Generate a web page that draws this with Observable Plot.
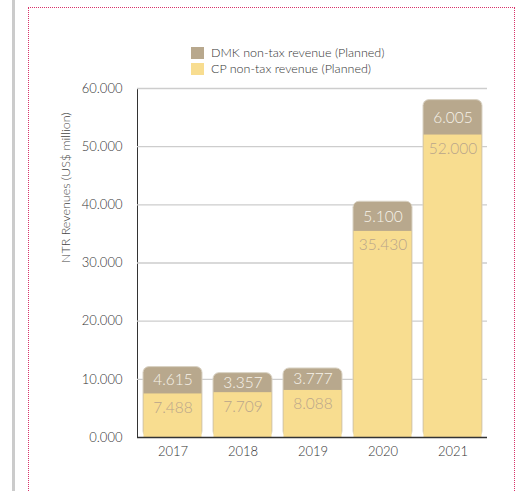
<!DOCTYPE html>
<html>
<head>
<meta charset="utf-8">
<script src="https://cdn.jsdelivr.net/npm/d3@7"></script>
<script src="https://cdn.jsdelivr.net/npm/@observablehq/plot@0.6"></script>
<style>
  html, body { margin: 0; padding: 0; background: #fff; }
  body { width: 518px; height: 491px; position: relative; overflow: hidden; font-family: Lato, sans-serif; }
  #leftbar { position: absolute; left: 12px; top: 0; width: 3px; height: 491px; background: #cbcbcb; }
  #frame { position: absolute; left: 28px; top: 7px; width: 487px; height: 520px; border: 1px dotted #d8336a; box-sizing: border-box; }
  #legend { position: absolute; left: 191px; top: 45px; font-size: 12.5px; font-weight: 300; color: #333; line-height: 16px; }
  #legend .row { display: flex; align-items: center; height: 16px; }
  #legend .sw { width: 13px; height: 12px; margin-right: 7px; }
  #chart { position: absolute; left: 0; top: 75px; }
</style>
</head>
<body>
<div id="leftbar"></div>
<div id="frame"></div>
<div id="legend"></div>
<div id="chart"></div>
<script>
const years = ["2017", "2018", "2019", "2020", "2021"];
const cpValues = [7488, 7709, 8088, 35430, 52000];
const dmkValues = [4615, 3357, 3777, 5100, 6005];
const seriesNames = ["DMK non-tax revenue (Planned)", "CP non-tax revenue (Planned)"];
const yTicks = [0, 10000, 20000, 30000, 40000, 50000, 60000];
const yTitle = "NTR Revenues (US$ million)";

const dmkColor = "#b8a88d";
const cpColor = "#f8dd90";

const data = years.map((year, i) => ({ year, cp: cpValues[i], dmk: dmkValues[i], total: cpValues[i] + dmkValues[i] }));
const fmt = d => (d / 1000).toFixed(3);

const legend = document.getElementById("legend");
[[seriesNames[0], dmkColor], [seriesNames[1], cpColor]].forEach(([name, color]) => {
  const row = document.createElement("div");
  row.className = "row";
  row.innerHTML = `<span class="sw" style="background:${color}"></span><span>${name}</span>`;
  legend.appendChild(row);
});

const chart = Plot.plot({
  width: 518,
  height: 392,
  marginTop: 13,
  marginBottom: 30,
  marginLeft: 137,
  marginRight: 31,
  style: { fontFamily: "Lato, sans-serif", fontSize: "13px", fontWeight: 300, color: "#333", background: "transparent" },
  x: { domain: years, paddingInner: 0.16, paddingOuter: 0.08, tickSize: 0, tickPadding: 9, label: null },
  y: {
    domain: [0, 60000], ticks: yTicks, tickFormat: fmt, tickSize: 0, tickPadding: 15,
    line: true, label: null
  },
  marks: [
    Plot.ruleY(yTicks.slice(1), { stroke: "#cdcdcd", strokeWidth: 1.3 }),
    Plot.barY(data, { x: "year", y1: 0, y2: "total", fill: dmkColor, stroke: "#d9d2c3", strokeWidth: 1, rx: 6 }),
    Plot.barY(data, { x: "year", y1: 0, y2: "cp", fill: cpColor, insetLeft: 0.5, insetRight: 0.5 }),
    Plot.ruleY([0], { stroke: "#333", strokeWidth: 1.5 }),
    Plot.text(data, { x: "year", y: d => d.cp + d.dmk / 2, text: d => fmt(d.dmk), fill: "#f7f3ea", fontSize: 15.5 }),
    Plot.text(data, { x: "year", y: "cp", dy: 14, text: d => fmt(d.cp), fill: "#b8a58b", fontSize: 15.5 }),
    Plot.text([yTitle], { frameAnchor: "left", dx: -72, rotate: -90, text: d => d, fontSize: 12.5, fill: "#444" })
  ]
});
document.getElementById("chart").appendChild(chart);
</script>
</body>
</html>
